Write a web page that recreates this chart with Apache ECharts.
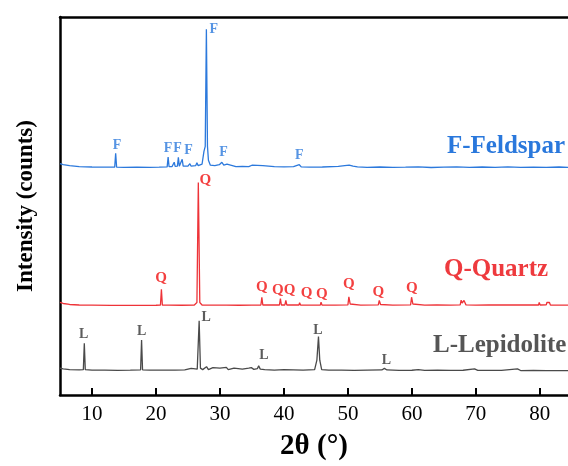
<!DOCTYPE html>
<html>
<head>
<meta charset="utf-8">
<script src="https://cdn.jsdelivr.net/npm/echarts@6/dist/echarts.min.js"></script>
<style>
  html, body { margin: 0; padding: 0; background: #fff; }
  #chart { width: 568px; height: 466px; }
</style>
</head>
<body>
<div id="chart"></div>
<script>
// XRD patterns, stacked: [2θ (°), intensity (offset counts)]
const feldspar = [
  [5.0,232.5],[5.5,231.5],[6.5,230.5],[8,229.5],[10,229.2],[12,229],[13.55,229],[13.7,243],[13.85,229],
  [15,228.8],[17,229],[19,228.8],[20.5,229],[21.75,229.3],[21.9,239.3],[22.05,229.5],[22.5,229.5],
  [22.85,234],[23.0,229.8],[23.35,230],[23.5,239],[23.65,230],[23.95,230.5],[24.1,237],[24.25,230],
  [25.0,230],[25.3,232.5],[25.5,230],[26.2,230.5],[26.4,233.5],[26.6,230.5],[27.2,232],[27.5,245],
  [27.7,250],[27.88,367.7],[28.05,250],[28.2,236],[28.5,231],[29.2,230.5],[29.9,231.5],[30.3,234],
  [30.6,231],[30.9,231.5],[31.1,232],[31.4,230],[32.5,229.5],[33.5,229.8],[34.5,229.5],[35.0,231],
  [35.3,229.5],[36.7,230.5],[37.0,229.3],[38.5,229.5],[40,229.3],[41.5,229.5],[42.4,231.5],[42.7,229.3],
  [44,229],[46,229.2],[48.5,229.8],[49.5,230.5],[50.2,231],[50.8,230],[51.5,229.3],[53,228.8],[55,229.2],
  [57,228.8],[59,229],[61,229.3],[63,228.7],[65,229.1],[67,229.3],[69,228.8],[71,229.2],[73,228.9],
  [75,229.3],[77,228.8],[79,229.1],[81,228.9],[83,229.2],[84.5,228.9]
];
const quartz = [
  [5,93],[5.5,92],[6.5,91],[8,90.5],[10,90.3],[13,90],[16,90],[18,90],[20.0,90.2],[20.7,90.3],
  [20.85,106.3],[21.0,90.3],[22,90.3],[24,90.2],[26.0,90.5],[26.4,93],[26.62,213.7],[26.85,93],
  [27.2,90.5],[29,90.3],[31,90.3],[33,90.2],[35,90.3],[36.4,90.5],[36.55,98.3],[36.7,90.5],[38,90.5],
  [39.3,90.5],[39.45,97],[39.6,90.5],[40.15,90.5],[40.3,95],[40.45,90.5],[41.5,90.5],[42.35,90.5],
  [42.45,92.7],[42.6,90.5],[44,90.4],[45.7,90.5],[45.8,93.3],[45.95,90.5],[48,90.4],[50.0,90.6],
  [50.15,98.7],[50.35,91.5],[50.6,90.5],[52,90.4],[54.75,90.6],[54.9,95],[55.1,91],[55.4,90.5],
  [57,90.4],[59.8,90.6],[59.95,98.3],[60.15,91.5],[60.4,90.5],[62,90.4],[63.9,90.5],[64.0,92.2],
  [64.15,90.5],[66,90.4],[67.55,90.6],[67.7,95.3],[67.85,92.5],[68.15,95],[68.3,94],[68.45,90.6],
  [70,90.4],[72,90.5],[73.4,90.5],[73.5,92],[73.65,90.5],[75.6,90.5],[75.7,92],[75.85,90.5],
  [77.5,90.5],[77.65,91.8],[77.8,90.5],[79.8,90.5],[79.9,93],[80.05,90.5],[81.0,90.6],[81.1,93],
  [81.3,91.5],[81.5,93],[81.65,90.5],[83,90.4],[84.5,90.4]
];
const lepidolite = [
  [5,27],[5.5,26.2],[6.5,25.5],[8.0,25.2],[8.65,25.5],[8.8,52],[8.95,25.5],[10,25],[12,25],[14,24.8],
  [16,25],[17.6,25.3],[17.75,55.3],[17.9,25.3],[19,25],[21,25],[23,25.1],[24.5,25.3],[25.5,26.8],
  [25.8,25.3],[26.45,26],[26.75,74.7],[26.95,27],[27.3,25.5],[27.9,28.5],[28.2,25.5],[28.9,27.5],
  [29.2,25.5],[30.0,27],[30.3,25.5],[31.0,27.8],[31.3,25.5],[32.2,27],[32.5,25.5],[33.5,26],[34.5,27],
  [34.9,27.5],[35.3,25.8],[35.85,26.5],[36.05,29.5],[36.3,26],[37,25.5],[38.5,25],[40,25.5],[41.5,25.3],
  [43,25],[44.8,25.5],[45.15,35],[45.4,58.7],[45.6,35],[45.9,25.5],[47,25],[49,25],[51,24.8],[53,25],
  [55.3,25.2],[55.7,26.8],[56.1,25.2],[58,24.8],[60,24.9],[61,25.6],[62,24.8],[64,24.9],[66,24.7],
  [68,24.9],[69.8,26.2],[70.3,24.8],[72,24.7],[74,24.8],[76.5,26.3],[77,24.6],[79,24.7],[81,24.5],
  [83,24.6],[84.5,24.5]
];

// Phase markers: where each letter sits [2θ, intensity]
const feldsparTags = [[13.9,251.3],[21.9,248],[23.35,248],[25.07,246],[29.03,367.7],[30.55,244],[42.4,241.3]];
const quartzTags = [[20.8,117.7],[27.73,216],[36.55,108.7],[39.05,105.3],[40.88,105.3],[43.55,102.3],[45.93,101.3],[50.16,111.3],[54.76,103.3],[60.0,107]];
const lepidoliteTags = [[8.69,61],[17.77,63.7],[27.84,77.7],[36.86,39.7],[45.3,64.7],[56.0,35]];

const phaseNames = ['F-Feldspar', 'Q-Quartz', 'L-Lepidolite'];
const xTicks = [10, 20, 30, 40, 50, 60, 70, 80];

const serif = "'Times New Roman', 'Liberation Serif', serif";
const BLUE = '#2c79dc', RED = '#ee3338', GRAY = '#4a4a4a';

function trace(data, color) {
  return { type: 'line', data, showSymbol: false, symbol: 'none', smooth: false,
           lineStyle: { color, width: 1.3 }, z: 2, silent: true };
}
function tags(data, letter, color, size) {
  return { type: 'scatter', data, symbolSize: 0, silent: true, z: 5,
           label: { show: true, position: 'inside', formatter: letter, color,
                    fontFamily: serif, fontWeight: 'bold', fontSize: size } };
}

const chart = echarts.init(document.getElementById('chart'), null, { renderer: 'canvas' });
chart.setOption({
  animation: false,
  backgroundColor: '#fff',
  grid: { left: 60, right: 0, top: 17, bottom: 69, containLabel: false },
  xAxis: [{
    type: 'value', min: 5, max: 84.4, interval: 10, position: 'bottom',
    name: '2θ (°)', nameLocation: 'middle', nameGap: 37,
    nameTextStyle: { fontFamily: serif, fontWeight: 'bold', fontSize: 29, color: '#000' },
    axisLine: { show: true, onZero: false, lineStyle: { color: '#000', width: 2.5 } },
    axisTick: { show: true, inside: true, length: 7, lineStyle: { color: '#000', width: 2 },
                customValues: xTicks },
    axisLabel: { fontFamily: serif, fontSize: 21, color: '#000', margin: 9,
                 customValues: xTicks },
    splitLine: { show: false }
  }, {
    type: 'value', min: 5, max: 84.4, position: 'top',
    axisLine: { show: true, onZero: false, lineStyle: { color: '#000', width: 2.5 } },
    axisTick: { show: false }, axisLabel: { show: false }, splitLine: { show: false }
  }],
  yAxis: {
    type: 'value', min: 0, max: 380,
    name: 'Intensity (counts)', nameLocation: 'middle', nameGap: 22, nameRotate: 90,
    nameTextStyle: { fontFamily: serif, fontWeight: 'bold', fontSize: 23, color: '#000' },
    axisLine: { show: true, onZero: false, lineStyle: { color: '#000', width: 2.5 } },
    axisTick: { show: false }, axisLabel: { show: false }, splitLine: { show: false }
  },
  series: [
    trace(feldspar, BLUE),
    trace(quartz, RED),
    trace(lepidolite, GRAY),
    tags(feldsparTags, 'F', BLUE, 14),
    tags(quartzTags, 'Q', '#f01010', 15),
    tags(lepidoliteTags, 'L', '#333', 14)
  ],
  graphic: [
    { type: 'text', left: 447, top: 134, style: { text: phaseNames[0], fill: '#2a78dc',
      font: "bold 25px 'Times New Roman', 'Liberation Serif', serif" } },
    { type: 'text', left: 444, top: 257, style: { text: phaseNames[1], fill: '#ee3a3e',
      font: "bold 25px 'Times New Roman', 'Liberation Serif', serif" } },
    { type: 'text', left: 433, top: 333, style: { text: phaseNames[2], fill: '#555',
      font: "bold 25px 'Times New Roman', 'Liberation Serif', serif" } }
  ]
});
</script>
</body>
</html>
